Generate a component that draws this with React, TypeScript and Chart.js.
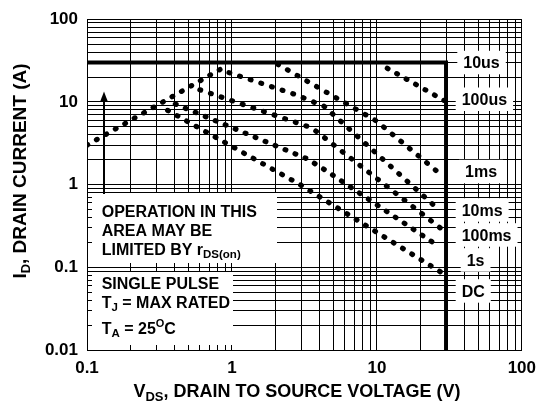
import React, { useEffect, useRef } from 'react';
import { Chart, registerables } from 'chart.js';

Chart.register(...registerables);

// ---------- data ----------
const X_DECADES = [0.1, 1, 10, 100];
const Y_DECADES = [0.01, 0.1, 1, 10, 100];
const X_TICK_LABELS = ['0.1', '1', '10', '100'];
const Y_TICK_LABELS = ['0.01', '0.1', '1', '10', '100'];
const MINOR_STEPS = [1, 2, 3, 4, 5, 6, 7, 8, 9];

// rDS(on) limit
const RDS_V = [0.1, 0.943];
const RDS_I = [3.0, 28.1];
// 10us: package / BVdss limit (thick line)
const LIMIT_V = [0.1, 30, 30];
const LIMIT_I = [30, 30, 0.01];
// 100us
const US100_V = [11.8, 29.1];
const US100_I = [25.5, 10.4];
// 1ms
const MS1_V = [2.07, 9.9, 26.6];
const MS1_I = [28.5, 5.9, 1.4];
// 10ms
const MS10_V = [0.954, 2.73, 4.33, 25.5];
const MS10_I = [22.6, 12.3, 8.83, 0.536];
// 100ms
const MS100_V = [0.601, 3.21, 3.64, 29.1];
const MS100_I = [14.0, 5.17, 4.7, 0.275];
// 1s
const S1_V = [0.407, 3.3, 4.45, 26.6];
const S1_I = [9.41, 2.05, 1.48, 0.18];
// DC
const DC_V = [0.36, 2.92, 27.6];
const DC_I = [7.9, 1.01, 0.0876];

const CURVE_LABELS = ['10us', '100us', '1ms', '10ms', '100ms', '1s', 'DC'];

// arrow (data coordinates)
const ARROW_X = 0.13;
const ARROW_FROM = 0.77;
const ARROW_TO = 13.4;

// ---------- styling / layout ----------
const FONT = "'Liberation Sans', Arial, Helvetica, sans-serif";
const f = (size: number) => `bold ${size}px ${FONT}`;

const buildTicks = (decades: number[]) => {
  const out: number[] = [];
  decades.forEach((d, i) => {
    if (i === decades.length - 1) out.push(d);
    else MINOR_STEPS.forEach((m) => out.push(Number((d * m).toPrecision(6))));
  });
  return out;
};
const X_TICKS = buildTicks(X_DECADES);
const Y_TICKS = buildTicks(Y_DECADES);

const labelFor = (decades: number[], labels: string[]) => (value: number) => {
  const idx = decades.findIndex((d) => Math.abs(Math.log10(d) - Math.log10(value)) < 1e-6);
  return idx >= 0 ? labels[idx] : '';
};

type Run = { t: string; size: number; dy?: number };
function runsWidth(ctx: CanvasRenderingContext2D, runs: Run[]) {
  let w = 0;
  runs.forEach((r) => {
    ctx.font = f(r.size);
    w += ctx.measureText(r.t).width;
  });
  return w;
}
function drawRuns(ctx: CanvasRenderingContext2D, runs: Run[], x: number, y: number, align: 'left' | 'center' = 'left') {
  const total = runsWidth(ctx, runs);
  let cx = align === 'center' ? x - total / 2 : x;
  ctx.textAlign = 'left';
  ctx.textBaseline = 'alphabetic';
  runs.forEach((r) => {
    ctx.font = f(r.size);
    ctx.fillText(r.t, cx, y + (r.dy || 0));
    cx += ctx.measureText(r.t).width;
  });
}

// right-hand labels: [left x, baseline y]
const RIGHT_POS: [number, number][] = [
  [463.3, 68.3],
  [461.7, 105],
  [465, 177.3],
  [461.7, 215.7],
  [461.7, 240.7],
  [466.7, 265.7],
  [461.7, 296.7],
];

const annotations = {
  id: 'soaAnnotations',
  beforeDatasetsDraw(chart: any) {
    const ctx: CanvasRenderingContext2D = chart.ctx;
    ctx.save();
    ctx.fillStyle = '#fff';
    // text boxes inside plot
    ctx.fillRect(92, 193, 277 - 92, 263 - 193);
    ctx.fillRect(92, 272, 233 - 92, 345 - 272);
    // right label boxes
    ctx.font = f(16);
    CURVE_LABELS.forEach((lab, i) => {
      const [lx, by] = RIGHT_POS[i];
      const w = ctx.measureText(lab).width;
      ctx.fillRect(lx - 6, by - 11.5 - 6, w + 12, 11.5 + 12);
    });
    ctx.restore();
  },
  afterDatasetsDraw(chart: any) {
    const ctx: CanvasRenderingContext2D = chart.ctx;
    const xs = chart.scales.x;
    const ys = chart.scales.y;
    ctx.save();
    ctx.fillStyle = '#000';
    ctx.strokeStyle = '#000';

    // right labels
    CURVE_LABELS.forEach((lab, i) => {
      const [lx, by] = RIGHT_POS[i];
      drawRuns(ctx, [{ t: lab, size: 16 }], lx, by);
    });

    // box A
    drawRuns(ctx, [{ t: 'OPERATION IN THIS', size: 16 }], 101.7, 217);
    drawRuns(ctx, [{ t: 'AREA MAY BE', size: 16 }], 101.7, 236);
    drawRuns(ctx, [{ t: 'LIMITED BY r', size: 16 }, { t: 'DS(on)', size: 11.5, dy: 3 }], 101.7, 255);
    // box B
    drawRuns(ctx, [{ t: 'SINGLE PULSE', size: 16 }], 101.7, 288.5);
    drawRuns(ctx, [{ t: 'T', size: 16 }, { t: 'J', size: 11.5, dy: 3 }, { t: ' = MAX RATED', size: 16 }], 101.7, 308);
    drawRuns(
      ctx,
      [
        { t: 'T', size: 16 },
        { t: 'A', size: 11.5, dy: 3 },
        { t: ' = 25', size: 16 },
        { t: 'O', size: 11, dy: -6.5 },
        { t: 'C', size: 16 },
      ],
      101.7,
      333.5
    );

    // arrow
    const ax = Math.round(xs.getPixelForValue(ARROW_X));
    const ay0 = ys.getPixelForValue(ARROW_FROM);
    const ay1 = ys.getPixelForValue(ARROW_TO);
    ctx.lineWidth = 2;
    ctx.beginPath();
    ctx.moveTo(ax, ay0);
    ctx.lineTo(ax, ay1 + 8);
    ctx.stroke();
    ctx.beginPath();
    ctx.moveTo(ax, ay1);
    ctx.lineTo(ax - 3.8, ay1 + 10);
    ctx.lineTo(ax + 3.8, ay1 + 10);
    ctx.closePath();
    ctx.fill();

    // axis titles
    drawRuns(
      ctx,
      [
        { t: 'V', size: 18 },
        { t: 'DS', size: 13, dy: 4 },
        { t: ', DRAIN TO SOURCE VOLTAGE (V)', size: 18 },
      ],
      297,
      396.5,
      'center'
    );
    ctx.save();
    ctx.translate(26, 171);
    ctx.rotate(-Math.PI / 2);
    drawRuns(
      ctx,
      [
        { t: 'I', size: 19 },
        { t: 'D', size: 13, dy: 4 },
        { t: ', DRAIN CURRENT (A)', size: 19 },
      ],
      0,
      0,
      'center'
    );
    ctx.restore();
    ctx.restore();
  },
};

const zip = (xs: number[], ys: number[]) => xs.map((x, i) => ({ x, y: ys[i] }));
const dotted = (label: string, xs: number[], ys: number[], gap: number) => ({
  label,
  data: zip(xs, ys),
  showLine: true,
  borderColor: '#000',
  backgroundColor: '#000',
  borderWidth: 5.2,
  borderDash: [0.8, gap - 0.8],
  borderCapStyle: 'round',
  borderJoinStyle: 'round',
  pointRadius: 0,
  fill: false,
  tension: 0,
});

export default function App() {
  const ref = useRef<HTMLCanvasElement>(null);
  useEffect(() => {
    const canvas = ref.current!;
    const chart = new Chart(canvas, {
      type: 'scatter',
      data: {
        datasets: [
          {
            label: '10us',
            data: zip(LIMIT_V, LIMIT_I),
            showLine: true,
            borderColor: '#000',
            borderWidth: 4,
            borderCapStyle: 'butt',
            borderJoinStyle: 'miter',
            pointRadius: 0,
            fill: false,
          } as any,
          dotted('rDS(on)', RDS_V, RDS_I, 10.87) as any,
          dotted('100us', US100_V, US100_I, 10.85) as any,
          dotted('1ms', MS1_V, MS1_I, 11.2) as any,
          dotted('10ms', MS10_V, MS10_I, 11.2) as any,
          dotted('100ms', MS100_V, MS100_I, 11.2) as any,
          dotted('1s', S1_V, S1_I, 10.8) as any,
          dotted('DC', DC_V, DC_I, 10.9) as any,
        ],
      },
      options: {
        responsive: false,
        animation: false,
        devicePixelRatio: 1,
        events: [],
        layout: { padding: { top: 17.5, right: 18, left: 0, bottom: 0 } },
        plugins: { legend: { display: false }, tooltip: { enabled: false } },
        scales: {
          x: {
            type: 'logarithmic',
            min: 0.1,
            max: 100,
            afterBuildTicks: (scale: any) => {
              scale.ticks = X_TICKS.map((v) => ({ value: v }));
            },
            afterFit: (scale: any) => {
              scale.height = 52;
            },
            ticks: {
              autoSkip: false,
              maxRotation: 0,
              minRotation: 0,
              padding: 8,
              color: '#000',
              font: { family: FONT, size: 17, weight: 'bold' },
              callback: (v: any) => labelFor(X_DECADES, X_TICK_LABELS)(Number(v)),
            },
            grid: { color: '#000', lineWidth: 1, drawTicks: false },
            border: { display: true, color: '#000', width: 1 },
          },
          y: {
            type: 'logarithmic',
            min: 0.01,
            max: 100,
            afterBuildTicks: (scale: any) => {
              scale.ticks = Y_TICKS.map((v) => ({ value: v }));
            },
            afterFit: (scale: any) => {
              scale.width = 87;
            },
            ticks: {
              autoSkip: false,
              padding: 9,
              color: '#000',
              font: { family: FONT, size: 17, weight: 'bold' },
              callback: (v: any) => labelFor(Y_DECADES, Y_TICK_LABELS)(Number(v)),
            },
            grid: { color: '#000', lineWidth: 1, drawTicks: false },
            border: { display: true, color: '#000', width: 1 },
          },
        },
      } as any,
      plugins: [annotations],
    });
    return () => chart.destroy();
  }, []);
  return (
    <div style={{ position: 'absolute', left: 0, top: 0, width: 544, height: 402, background: '#fff' }}>
      <canvas ref={ref} width={544} height={402} style={{ display: 'block' }} />
    </div>
  );
}
